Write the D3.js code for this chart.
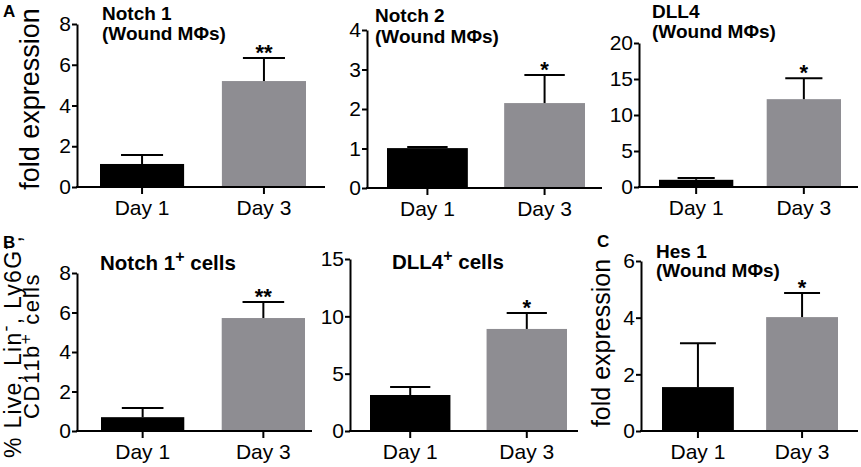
<!DOCTYPE html>
<html>
<head>
<meta charset="utf-8">
<script src="https://cdn.jsdelivr.net/npm/d3@7"></script>
<style>
  body { margin: 0; background: #fff; }
  svg { display: block; font-family: "Liberation Sans", Arial, Helvetica, sans-serif; }
</style>
</head>
<body>
<div id="chart"></div>
<script>
// categories
const days = ["Day 1", "Day 3"];

// A: fold expression in wound macrophages
const notch1Mean = [1.13, 5.2];
const notch1Err = [0.44, 1.13];
const notch1Stars = ["", "**"];
const notch1Ticks = [0, 2, 4, 6, 8];

const notch2Mean = [1.01, 2.15];
const notch2Err = [0.03, 0.71];
const notch2Stars = ["", "*"];
const notch2Ticks = [0, 1, 2, 3, 4];

const dll4Mean = [1.0, 12.2];
const dll4Err = [0.25, 2.9];
const dll4Stars = ["", "*"];
const dll4Ticks = [0, 5, 10, 15, 20];

// B: % positive cells
const notch1CellsMean = [0.7, 5.72];
const notch1CellsErr = [0.46, 0.81];
const notch1CellsStars = ["", "**"];
const notch1CellsTicks = [0, 2, 4, 6, 8];

const dll4CellsMean = [3.14, 8.9];
const dll4CellsErr = [0.7, 1.4];
const dll4CellsStars = ["", "*"];
const dll4CellsTicks = [0, 5, 10, 15];

// C: Hes 1 fold expression
const hes1Mean = [1.55, 4.02];
const hes1Err = [1.55, 0.85];
const hes1Stars = ["", "*"];
const hes1Ticks = [0, 2, 4, 6];

const barColors = ["#000000", "#8e8d92"];

// panel layout (pixel boxes of each small chart)
const panels = [
  { mean: notch1Mean, err: notch1Err, stars: notch1Stars, ticks: notch1Ticks,
    title: ["Notch 1", "(Wound MΦs)"], titleX: 102, titleY: [20, 40], titleSize: 19,
    left: 77, right: 325, bandL: 100, bandR: 306, top: 24, bottom: 187 },
  { mean: notch2Mean, err: notch2Err, stars: notch2Stars, ticks: notch2Ticks,
    title: ["Notch 2", "(Wound MΦs)"], titleX: 375, titleY: [22, 43], titleSize: 19,
    left: 367, right: 602, bandL: 387, bandR: 585, top: 30, bottom: 188 },
  { mean: dll4Mean, err: dll4Err, stars: dll4Stars, ticks: dll4Ticks,
    title: ["DLL4", "(Wound MΦs)"], titleX: 652, titleY: [18, 38], titleSize: 19,
    left: 639, right: 858, bandL: 659, bandR: 841, top: 43, bottom: 187 },
  { mean: notch1CellsMean, err: notch1CellsErr, stars: notch1CellsStars, ticks: notch1CellsTicks,
    title: ["Notch 1^+ cells"], titleX: 100, titleY: [270], titleSize: 20.5,
    left: 77, right: 312, bandL: 101, bandR: 305, top: 273, bottom: 431 },
  { mean: dll4CellsMean, err: dll4CellsErr, stars: dll4CellsStars, ticks: dll4CellsTicks,
    title: ["DLL4^+ cells"], titleX: 392, titleY: [269], titleSize: 20.5,
    left: 350, right: 578, bandL: 370, bandR: 567, top: 259, bottom: 431 },
  { mean: hes1Mean, err: hes1Err, stars: hes1Stars, ticks: hes1Ticks,
    title: ["Hes 1", "(Wound MΦs)"], titleX: 656, titleY: [258, 277], titleSize: 19,
    left: 641, right: 858, bandL: 662, bandR: 838, top: 261, bottom: 431 }
];

const yLabels = [
  { lines: ["fold expression"], x: [39], y: [99], anchor: ["middle"], size: [27], len: [null], spacing: [0] },
  { lines: ["% Live, Lin^-, Ly6G^-,", "CD11b^+ cells"], x: [21, 39], y: [347, 419],
    anchor: ["middle", "start"], size: [23, 22], len: [222, null], spacing: [0, 1.6] },
  { lines: ["fold expression"], x: [610], y: [343], anchor: ["middle"], size: [25], len: [null], spacing: [0] }
];

const letters = [
  { t: "A", x: 3, y: 17 },
  { t: "B", x: 3, y: 248 },
  { t: "C", x: 597, y: 247 }
];

const svg = d3.select("#chart").append("svg")
    .attr("width", 861)
    .attr("height", 467);

// text with ^x marking a superscript character
function richText(sel, str, size) {
  const parts = str.split(/(\^.)/).filter(s => s.length);
  let raised = false;
  parts.forEach(p => {
    if (p[0] === "^") {
      sel.append("tspan").attr("dy", -0.38 * size).attr("font-size", size * 0.78).text(p[1]);
      raised = true;
    } else {
      const t = sel.append("tspan").text(p);
      if (raised) { t.attr("dy", 0.38 * size); raised = false; }
    }
  });
}

panels.forEach(p => {
  const g = svg.append("g");

  const x = d3.scaleBand()
      .domain(days)
      .range([p.bandL, p.bandR])
      .paddingInner(0.31);

  const y = d3.scaleLinear()
      .domain([0, d3.max(p.ticks)])
      .range([p.bottom, p.top]);

  const bw = x.bandwidth();

  // bars
  g.selectAll("rect")
    .data(days)
    .join("rect")
      .attr("x", d => x(d))
      .attr("y", (d, i) => y(p.mean[i]))
      .attr("width", bw)
      .attr("height", (d, i) => p.bottom - y(p.mean[i]))
      .attr("fill", (d, i) => barColors[i]);

  // error bars (upper only)
  days.forEach((d, i) => {
    const cx = x(d) + bw / 2;
    const top = y(p.mean[i] + p.err[i]);
    g.append("line")
        .attr("x1", cx).attr("x2", cx)
        .attr("y1", y(p.mean[i])).attr("y2", top)
        .attr("stroke", "#000").attr("stroke-width", 2);
    g.append("line")
        .attr("x1", cx - bw / 4).attr("x2", cx + bw / 4)
        .attr("y1", top).attr("y2", top)
        .attr("stroke", "#000").attr("stroke-width", 2);
    if (p.stars[i]) {
      g.append("text")
          .attr("x", cx)
          .attr("y", top + 2)
          .attr("text-anchor", "middle")
          .attr("font-size", 22)
          .attr("font-weight", "bold")
          .text(p.stars[i]);
    }
  });

  // y axis
  const yAxis = g.append("g")
      .attr("transform", `translate(${p.left},0)`)
      .call(d3.axisLeft(y).tickValues(p.ticks).tickFormat(d3.format("d"))
        .tickSize(5).tickPadding(1).tickSizeOuter(0));
  yAxis.select(".domain").attr("stroke-width", 2);
  yAxis.selectAll(".tick line").attr("stroke-width", 2);
  yAxis.selectAll(".tick text")
      .attr("font-size", 21)
      .attr("font-family", "Liberation Sans, Arial, sans-serif")
      .attr("fill", "#000");

  // x axis
  g.append("line")
      .attr("x1", p.left - 1).attr("x2", p.right)
      .attr("y1", p.bottom).attr("y2", p.bottom)
      .attr("stroke", "#000").attr("stroke-width", 2);
  const xAxis = g.append("g")
      .attr("transform", `translate(0,${p.bottom})`)
      .call(d3.axisBottom(x).tickSize(7).tickPadding(0));
  xAxis.select(".domain").remove();
  xAxis.selectAll(".tick line").attr("stroke-width", 2);
  xAxis.selectAll(".tick text")
      .attr("font-size", 21)
      .attr("font-family", "Liberation Sans, Arial, sans-serif")
      .attr("fill", "#000")
      .attr("dy", null)
      .attr("y", 28);

  // title
  p.title.forEach((line, k) => {
    const t = g.append("text")
        .attr("x", p.titleX)
        .attr("y", p.titleY[k])
        .attr("font-size", p.titleSize)
        .attr("font-weight", "bold");
    richText(t, line, p.titleSize);
  });
});

// rotated y labels
yLabels.forEach(l => {
  l.lines.forEach((line, k) => {
    const t = svg.append("text")
        .attr("transform", `translate(${l.x[k]},${l.y[k]}) rotate(-90)`)
        .attr("text-anchor", l.anchor[k])
        .attr("font-size", l.size[k])
        .attr("letter-spacing", l.spacing[k]);
    if (l.len[k]) t.attr("textLength", l.len[k]).attr("lengthAdjust", "spacing");
    richText(t, line, l.size[k]);
  });
});

// panel letters
svg.selectAll(".letter")
  .data(letters)
  .join("text")
    .attr("class", "letter")
    .attr("x", d => d.x)
    .attr("y", d => d.y)
    .attr("font-size", 17)
    .attr("font-weight", "bold")
    .text(d => d.t);
</script>
</body>
</html>
